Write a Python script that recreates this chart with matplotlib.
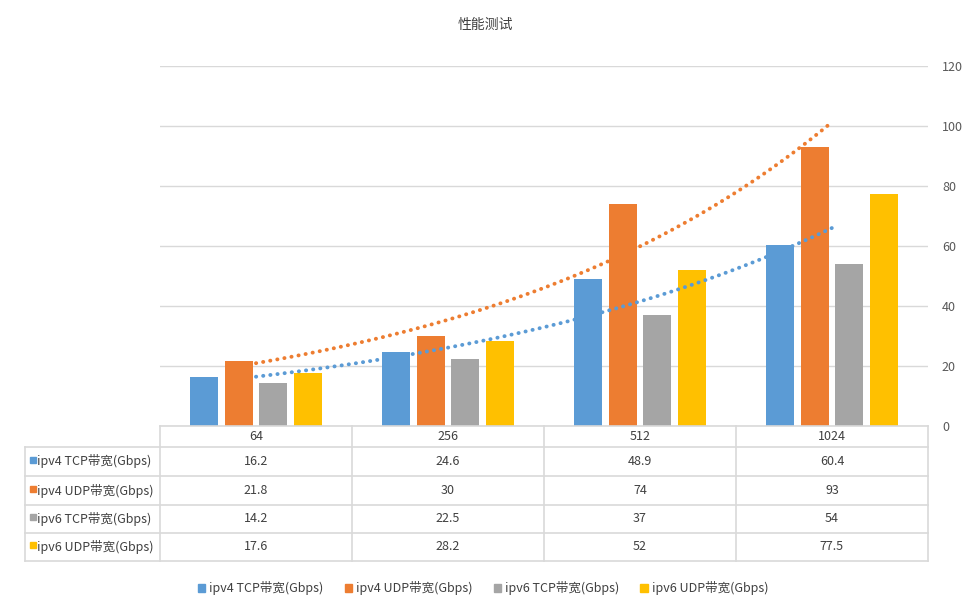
import matplotlib.pyplot as plt
from matplotlib.patches import Rectangle
from matplotlib.lines import Line2D
import numpy as np

plt.rcParams['font.family'] = ['Noto Sans CJK SC', 'DejaVu Sans']

# data
categories = ['64', '256', '512', '1024']
series_names = ['ipv4 TCP带宽(Gbps)', 'ipv4 UDP带宽(Gbps)',
                'ipv6 TCP带宽(Gbps)', 'ipv6 UDP带宽(Gbps)']
ipv4_tcp = [16.2, 24.6, 48.9, 60.4]
ipv4_udp = [21.8, 30, 74, 93]
ipv6_tcp = [14.2, 22.5, 37, 54]
ipv6_udp = [17.6, 28.2, 52, 77.5]
series = [ipv4_tcp, ipv4_udp, ipv6_tcp, ipv6_udp]
labels_txt = [['16.2', '24.6', '48.9', '60.4'],
              ['21.8', '30', '74', '93'],
              ['14.2', '22.5', '37', '54'],
              ['17.6', '28.2', '52', '77.5']]
colors = ['#5B9BD5', '#ED7D31', '#A5A5A5', '#FFC000']
yticks = [0, 20, 40, 60, 80, 100, 120]

W, H = 970, 610
fig = plt.figure(figsize=(W / 100, H / 100), dpi=100)


def fx(px):
    return px / W


def fy(py):
    return 1 - py / H


left, right, top, bottom = 160, 928, 66, 426
ax = fig.add_axes([fx(left), fy(bottom), fx(right) - fx(left), fy(top) - fy(bottom)])

x = np.arange(len(categories))
bw = 0.146
step = 0.18
for i, (vals, c) in enumerate(zip(series, colors)):
    ax.bar(x + (i - 1.5) * step, vals, width=bw, color=c, zorder=2)

# exponential trendlines for ipv4 series
for vals, c in [(ipv4_tcp, colors[0]), (ipv4_udp, colors[1])]:
    xi = np.arange(1, len(vals) + 1)
    b, a = np.polyfit(xi, np.log(vals), 1)
    xs = np.linspace(1, len(vals), 60)
    ys = np.exp(a + b * xs)
    ax.plot(xs - 1, ys, color=c, lw=2.8, linestyle=(0, (0.05, 1.8)),
            dash_capstyle='round', zorder=3)

ax.set_xlim(-0.5, len(categories) - 0.5)
ax.set_ylim(0, 120)
ax.set_yticks(yticks)
ax.yaxis.tick_right()
ax.tick_params(axis='y', length=0, pad=10, labelsize=9, labelcolor='#595959')
ax.set_xticks([])
ax.grid(axis='y', color='#D9D9D9', lw=1, zorder=0)
for s in ax.spines.values():
    s.set_visible(False)

fig.text(0.5, fy(25), '性能测试', ha='center', va='center', fontsize=10, color='#404040')

# data table
line_c = '#D9D9D9'
row_edges = [426, 447, 476, 505, 533, 561]
col_edges = [left + i * 192 for i in range(len(categories) + 1)]
tbl_left = 25


def hline(x0, x1, y):
    fig.add_artist(Line2D([fx(x0), fx(x1)], [fy(y), fy(y)], color=line_c, lw=1.2))


def vline(x0, y0, y1):
    fig.add_artist(Line2D([fx(x0), fx(x0)], [fy(y0), fy(y1)], color=line_c, lw=1.2))


hline(left, right, row_edges[0])
for y in row_edges[1:]:
    hline(tbl_left, right, y)
vline(tbl_left, row_edges[1], row_edges[-1])
for cx in col_edges:
    vline(cx, row_edges[0], row_edges[-1])

for j, cat in enumerate(categories):
    fig.text(fx((col_edges[j] + col_edges[j + 1]) / 2), fy((row_edges[0] + row_edges[1]) / 2),
             cat, ha='center', va='center', fontsize=9, color='#404040')

for i, name in enumerate(series_names):
    yc = (row_edges[i + 1] + row_edges[i + 2]) / 2
    fig.add_artist(Rectangle((fx(30), fy(yc + 1)), fx(6), 6 / H, color=colors[i],
                             transform=fig.transFigure))
    fig.text(fx(37), fy(yc), name, ha='left', va='center', fontsize=9, color='#404040')
    for j in range(len(categories)):
        fig.text(fx((col_edges[j] + col_edges[j + 1]) / 2), fy(yc), labels_txt[i][j],
                 ha='center', va='center', fontsize=9, color='#404040')

handles = [Rectangle((0, 0), 1, 1, color=c) for c in colors]
fig.legend(handles, series_names, loc='center', bbox_to_anchor=(fx(483), fy(588)),
           ncol=4, frameon=False, fontsize=9, handlelength=0.6, handleheight=0.6,
           handletextpad=0.3, columnspacing=1.7, labelcolor='#404040')

fig.savefig('out.png', dpi=100)
